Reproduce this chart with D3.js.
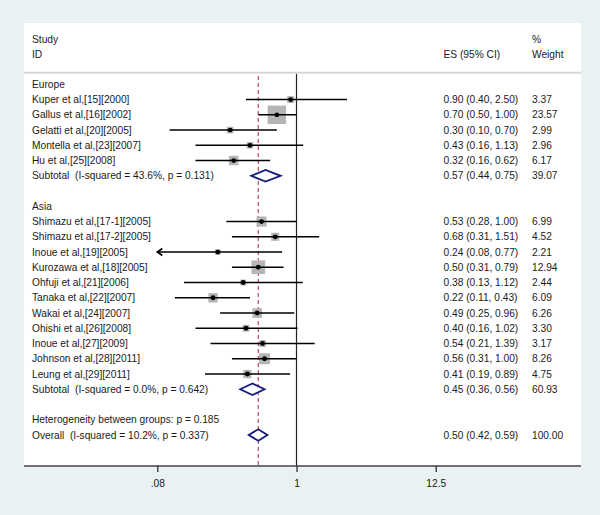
<!DOCTYPE html>
<html>
<head>
<meta charset="utf-8">
<script src="https://cdn.jsdelivr.net/npm/d3@7"></script>
<style>
  html, body { margin: 0; padding: 0; background: #e9f1f3; }
  svg { display: block; }
  text { font-family: "Liberation Sans", Arial, Helvetica, sans-serif; font-size: 10.2px; fill: #1a1a1a; white-space: pre; }
</style>
</head>
<body>
<div id="chart"></div>
<script>
// ---------- data ----------
const europeStudies = ["Kuper et al,[15][2000]", "Gallus et al,[16][2002]", "Gelatti et al,[20][2005]", "Montella et al,[23][2007]", "Hu et al,[25][2008]"];
const europeES    = [0.90, 0.70, 0.30, 0.43, 0.32];
const europeLower = [0.40, 0.50, 0.10, 0.16, 0.16];
const europeUpper = [2.50, 1.00, 0.70, 1.13, 0.62];
const europeWeight = [3.37, 23.57, 2.99, 2.96, 6.17];

const asiaStudies = ["Shimazu et al,[17-1][2005]", "Shimazu et al,[17-2][2005]", "Inoue et al,[19][2005]", "Kurozawa et al,[18][2005]", "Ohfuji et al,[21][2006]", "Tanaka et al,[22][2007]", "Wakai et al,[24][2007]", "Ohishi et al,[26][2008]", "Inoue et al,[27][2009]", "Johnson et al,[28][2011]", "Leung et al,[29][2011]"];
const asiaES    = [0.53, 0.68, 0.24, 0.50, 0.38, 0.22, 0.49, 0.40, 0.54, 0.56, 0.41];
const asiaLower = [0.28, 0.31, 0.077, 0.31, 0.13, 0.11, 0.25, 0.16, 0.21, 0.31, 0.19];
const asiaUpper = [1.00, 1.51, 0.77, 0.79, 1.12, 0.43, 0.96, 1.02, 1.39, 1.00, 0.89];
const asiaWeight = [6.99, 4.52, 2.21, 12.94, 2.44, 6.09, 6.26, 3.30, 3.17, 8.26, 4.75];

const europeSubtotal = { label: "Subtotal  (I-squared = 43.6%, p = 0.131)", es: 0.57, lo: 0.44, hi: 0.75, w: 39.07 };
const asiaSubtotal   = { label: "Subtotal  (I-squared = 0.0%, p = 0.642)",  es: 0.45, lo: 0.36, hi: 0.56, w: 60.93 };
const overall        = { label: "Overall  (I-squared = 10.2%, p = 0.337)",  es: 0.50, lo: 0.42, hi: 0.59, w: 100.00 };
const heterogeneityText = "Heterogeneity between groups: p = 0.185";

const tickValues = [0.08, 1, 12.5];
const tickLabels = [".08", "1", "12.5"];

// ---------- build rows ----------
const fmt = d3.format(".2f");
const rows = [];
rows.push({ type: "group", label: "Europe" });
europeStudies.forEach((s, i) => rows.push({ type: "study", label: s, es: europeES[i], lo: europeLower[i], hi: europeUpper[i], w: europeWeight[i] }));
rows.push({ type: "sub", ...europeSubtotal });
rows.push({ type: "blank" });
rows.push({ type: "group", label: "Asia" });
asiaStudies.forEach((s, i) => rows.push({ type: "study", label: s, es: asiaES[i], lo: asiaLower[i], hi: asiaUpper[i], w: asiaWeight[i] }));
rows.push({ type: "sub", ...asiaSubtotal });
rows.push({ type: "blank" });
rows.push({ type: "text", label: heterogeneityText });
rows.push({ type: "sub", ...overall });

// ---------- layout ----------
const W = 600, H = 515;
const svg = d3.select("#chart").append("svg").attr("width", W).attr("height", H);

const plot = { x0: 24, x1: 581, y0: 23, y1: 466 };
svg.append("rect").attr("x", 0).attr("y", 0).attr("width", W).attr("height", H).attr("fill", "#e9f1f3");
svg.append("rect").attr("x", plot.x0).attr("y", plot.y0)
  .attr("width", plot.x1 - plot.x0).attr("height", plot.y1 - plot.y0).attr("fill", "#ffffff");

const x = d3.scaleLog().domain([0.08, 12.5]).range([157.3, 435.7]);
const y = d3.scaleLinear().domain([0, rows.length - 1]).range([84.3, 435]);
const boxSize = d3.scaleSqrt().domain([0, 100]).range([0, 38]);

const colLabel = 32, colES = 443.5, colW = 532;
const base = 3.7;

// header
svg.append("text").attr("x", colLabel).attr("y", 43).text("Study");
svg.append("text").attr("x", colLabel).attr("y", 58).text("ID");
svg.append("text").attr("x", colES).attr("y", 58).text("ES (95% CI)");
svg.append("text").attr("x", colW).attr("y", 43).text("%");
svg.append("text").attr("x", colW).attr("y", 58).text("Weight");
svg.append("line").attr("x1", plot.x0).attr("x2", plot.x1).attr("y1", 72.8).attr("y2", 72.8)
  .attr("stroke", "#d6d6d6").attr("stroke-width", 2);

// reference lines
svg.append("line").attr("x1", x(1)).attr("x2", x(1)).attr("y1", 74).attr("y2", plot.y1)
  .attr("stroke", "#222").attr("stroke-width", 1.2);
svg.append("line").attr("x1", x(overall.es)).attr("x2", x(overall.es)).attr("y1", 76).attr("y2", plot.y1)
  .attr("stroke", "#c4566a").attr("stroke-width", 1.3).attr("stroke-dasharray", "4,3");

// rows
const g = svg.append("g");
rows.forEach((r, i) => {
  const cy = y(i);
  if (r.type === "blank") return;
  if (r.label) g.append("text").attr("x", colLabel).attr("y", cy + base).text(r.label);
  if (r.type === "study") {
    const s = boxSize(r.w);
    g.append("rect").attr("x", x(r.es) - s / 2).attr("y", cy - s / 2).attr("width", s).attr("height", s)
      .attr("fill", "#b5b5b5");
    const xl = r.lo < x.domain()[0] ? x.domain()[0] : r.lo;
    g.append("line").attr("x1", x(xl)).attr("x2", x(r.hi)).attr("y1", cy).attr("y2", cy)
      .attr("stroke", "#000").attr("stroke-width", 1.6);
    if (r.lo < x.domain()[0]) {
      g.append("path").attr("d", `M${x(xl) + 5},${cy - 3.5}L${x(xl)},${cy}L${x(xl) + 5},${cy + 3.5}`)
        .attr("fill", "none").attr("stroke", "#000").attr("stroke-width", 1.6);
    }
    g.append("circle").attr("cx", x(r.es)).attr("cy", cy).attr("r", 2.4).attr("fill", "#000");
  }
  if (r.type === "sub") {
    const hh = 5.8;
    g.append("path")
      .attr("d", `M${x(r.lo)},${cy}L${x(r.es)},${cy - hh}L${x(r.hi)},${cy}L${x(r.es)},${cy + hh}Z`)
      .attr("fill", "#fff").attr("stroke", "#14197a").attr("stroke-width", 1.8);
  }
  if (r.type === "study" || r.type === "sub") {
    g.append("text").attr("x", colES).attr("y", cy + base)
      .text(`${fmt(r.es)} (${fmt(r.lo)}, ${fmt(r.hi)})`);
    g.append("text").attr("x", colW).attr("y", cy + base).text(fmt(r.w));
  }
});

// x axis
svg.append("line").attr("x1", plot.x0).attr("x2", plot.x1).attr("y1", plot.y1).attr("y2", plot.y1)
  .attr("stroke", "#444").attr("stroke-width", 1.4);
const axis = d3.axisBottom(x).tickValues(tickValues)
  .tickFormat((d, i) => tickLabels[i]).tickSize(6).tickSizeOuter(0).tickPadding(8);
const ax = svg.append("g").attr("transform", `translate(0,${plot.y1})`).call(axis);
ax.select(".domain").remove();
ax.selectAll(".tick line").attr("stroke", "#222").attr("stroke-width", 1.2);
ax.selectAll(".tick text").attr("fill", "#1a1a1a")
  .style("font-family", '"Liberation Sans", Arial, sans-serif').style("font-size", "10.2px");
</script>
</body>
</html>
